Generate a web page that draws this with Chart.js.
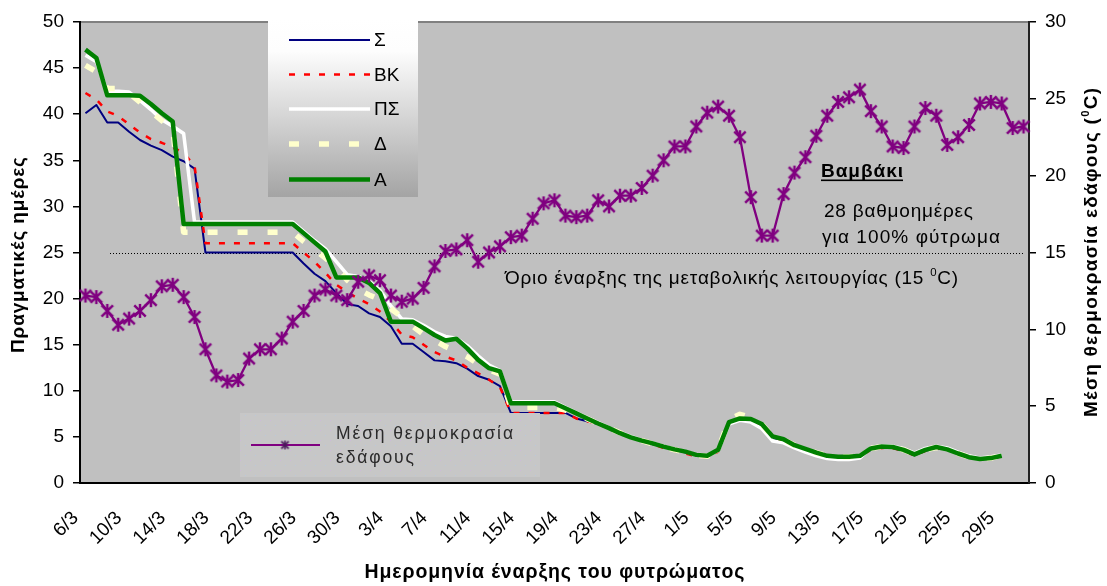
<!DOCTYPE html>
<html>
<head>
<meta charset="utf-8">
<script src="https://cdn.jsdelivr.net/npm/chart.js@4.4.1/dist/chart.umd.min.js"></script>
<style>
  html, body { margin: 0; padding: 0; background: #ffffff; }
  #wrap { width: 1107px; height: 586px; position: relative; }
</style>
</head>
<body>
<div id="wrap"><canvas id="chart" width="1107" height="586"></canvas></div>
<script>
// Sowing dates (categories), 6/3 to 31/5
const dates = [
  '6/3','7/3','8/3','9/3','10/3','11/3','12/3','13/3','14/3','15/3','16/3','17/3','18/3','19/3','20/3',
  '21/3','22/3','23/3','24/3','25/3','26/3','27/3','28/3','29/3','30/3','31/3',
  '1/4','2/4','3/4','4/4','5/4','6/4','7/4','8/4','9/4','10/4','11/4','12/4','13/4','14/4','15/4',
  '16/4','17/4','18/4','19/4','20/4','21/4','22/4','23/4','24/4','25/4','26/4','27/4','28/4','29/4','30/4',
  '1/5','2/5','3/5','4/5','5/5','6/5','7/5','8/5','9/5','10/5','11/5','12/5','13/5','14/5','15/5',
  '16/5','17/5','18/5','19/5','20/5','21/5','22/5','23/5','24/5','25/5','26/5','27/5','28/5','29/5','30/5','31/5'
];

// Days to emergence per sowing date (left axis)
const daysS = [
  40.1, 41.0, 39.1, 39.1, 38.1, 37.2, 36.6, 36.1, 35.4, 34.9,
  34.1, 25.0, 25.0, 25.0, 25.0, 25.0, 25.0, 25.0, 25.0, 25.0,
  23.8, 22.7, 21.9, 20.6, 19.4, 19.2, 18.4, 18.0, 17.0, 15.1,
  15.1, 14.2, 13.3, 13.2, 13.0, 12.4, 11.6, 11.2, 10.5, 7.6,
  7.6, 7.6, 7.6, 7.6, 7.6, 7.0, 6.7, 6.4, 5.9, 5.5,
  5.0, 4.6, 4.2, 3.9, 3.6, 3.3, 3.0, 2.9, 3.5, 6.5,
  6.9, 6.8, 6.2, 4.9, 4.6, 4.0, 3.6, 3.2, 2.9, 2.8,
  2.8, 2.9, 3.6, 3.8, 3.8, 3.5, 3.0, 3.5, 3.8, 3.6,
  3.2, 2.8, 2.6, 2.7, 2.9
];
const daysBK = [
  42.3, 41.6, 40.3, 39.8, 38.9, 38.0, 37.3, 36.9, 36.4, 35.8,
  34.4, 26.0, 26.0, 26.0, 26.0, 26.0, 26.0, 26.0, 26.0, 26.0,
  25.0, 24.0, 22.8, 21.5, 20.7, 20.0, 19.4, 18.6, 17.5, 16.1,
  15.8, 15.0, 14.2, 13.7, 13.3, 12.5, 11.9, 11.2, 10.4, 7.6,
  7.6, 7.6, 7.6, 7.6, 7.6, 7.0, 6.7, 6.4, 5.9, 5.5,
  5.0, 4.5, 4.2, 3.8, 3.5, 3.2, 2.9, 2.8, 3.4, 6.5,
  6.9, 6.8, 6.2, 4.9, 4.6, 4.0, 3.6, 3.2, 2.9, 2.8,
  2.8, 2.9, 3.6, 3.8, 3.8, 3.5, 3.0, 3.5, 3.8, 3.6,
  3.2, 2.8, 2.6, 2.7, 2.9
];
const daysPS = [
  46.4, 45.7, 42.5, 42.5, 42.4, 41.5, 40.5, 39.4, 38.7, 37.9,
  28.3, 28.3, 28.3, 28.3, 28.3, 28.3, 28.3, 28.3, 28.3, 28.3,
  27.3, 26.3, 25.4, 24.0, 22.6, 22.4, 21.9, 20.9, 19.2, 17.8,
  17.7, 17.1, 16.4, 15.9, 15.7, 14.9, 13.8, 12.8, 12.2, 8.8,
  8.8, 8.8, 8.8, 8.8, 8.2, 7.65, 7.1, 6.55, 6.0, 5.5,
  5.05, 4.65, 4.35, 4.0, 3.65, 3.4, 3.05, 2.95, 3.5, 6.4,
  6.8, 6.6, 5.9, 4.55, 4.35, 3.8, 3.35, 2.95, 2.65, 2.55,
  2.55, 2.7, 3.85, 4.05, 4.0, 3.75, 3.25, 3.75, 4.0, 3.8,
  3.35, 2.95, 2.7, 2.85, 3.05
];
const daysD = [
  45.3, 44.6, 42.8, 42.8, 42.3, 41.3, 40.3, 39.3, 38.5, 27.2,
  27.2, 27.2, 27.2, 27.2, 27.2, 27.2, 27.2, 27.2, 27.2, 27.2,
  26.2, 25.3, 24.4, 23.4, 22.0, 21.0, 20.4, 19.9, 18.9, 18.0,
  17.0, 16.1, 15.5, 14.8, 14.3, 13.7, 12.9, 12.3, 11.8, 8.2,
  8.2, 8.2, 8.2, 8.2, 7.9, 7.5, 6.95, 6.45, 5.95, 5.45,
  5.0, 4.6, 4.25, 3.9, 3.6, 3.35, 3.0, 2.9, 3.6, 6.9,
  7.45, 7.1, 6.4, 5.0, 4.7, 4.1, 3.7, 3.3, 2.95, 2.85,
  2.85, 2.95, 3.75, 3.95, 3.9, 3.6, 3.1, 3.6, 3.85, 3.65,
  3.2, 2.8, 2.6, 2.7, 2.95
];
const daysA = [
  47.0, 46.1, 42.05, 42.05, 42.05, 42.0, 41.1, 40.1, 39.2, 28.1,
  28.1, 28.1, 28.1, 28.1, 28.1, 28.1, 28.1, 28.1, 28.1, 28.1,
  27.1, 26.1, 25.1, 22.3, 22.3, 22.3, 21.7, 20.6, 17.5, 17.5,
  17.5, 16.8, 16.05, 15.45, 15.65, 14.6, 13.35, 12.45, 12.1, 8.65,
  8.65, 8.65, 8.65, 8.65, 8.1, 7.55, 7.0, 6.45, 5.95, 5.4,
  4.95, 4.6, 4.3, 3.95, 3.65, 3.4, 3.05, 2.95, 3.6, 6.6,
  7.0, 6.95, 6.4, 5.05, 4.75, 4.1, 3.7, 3.3, 2.95, 2.85,
  2.85, 2.95, 3.75, 3.95, 3.9, 3.6, 3.1, 3.6, 3.9, 3.65,
  3.2, 2.8, 2.6, 2.7, 2.95
];

// Mean soil temperature, °C (right axis)
const soilTemp = [
  12.2, 12.1, 11.2, 10.3, 10.7, 11.2, 11.9, 12.8, 12.9, 12.1,
  10.8, 8.7, 7.0, 6.6, 6.7, 8.1, 8.7, 8.7, 9.4, 10.5,
  11.2, 12.2, 12.6, 12.2, 11.9, 13.1, 13.5, 13.2, 12.2, 11.8,
  12.0, 12.7, 14.1, 15.1, 15.2, 15.8, 14.4, 15.0, 15.4, 16.0,
  16.1, 17.2, 18.2, 18.4, 17.4, 17.3, 17.4, 18.4, 18.0, 18.7,
  18.7, 19.2, 20.0, 21.0, 21.9, 21.9, 23.2, 24.1, 24.5, 23.9,
  22.5, 18.6, 16.1, 16.1, 18.8, 20.2, 21.2, 22.6, 23.9, 24.8,
  25.1, 25.6, 24.2, 23.2, 21.9, 21.8, 23.2, 24.4, 23.9, 22.0,
  22.5, 23.3, 24.7, 24.8, 24.7, 23.1, 23.2
];

const leftTicks = [0, 5, 10, 15, 20, 25, 30, 35, 40, 45, 50];
const rightTicks = [0, 5, 10, 15, 20, 25, 30];
const thresholdTemp = 15;

const FONT = '"Liberation Sans", Arial, sans-serif';
const PURPLE = '#800080';

function asteriskMarker(size, lw, color) {
  const c = document.createElement('canvas');
  c.width = size; c.height = size;
  const g = c.getContext('2d');
  const m = size / 2, r = size / 2 - 1, d = r * 0.82;
  g.strokeStyle = color;
  g.lineWidth = lw;
  g.beginPath();
  g.moveTo(m - d, m - d); g.lineTo(m + d, m + d);
  g.moveTo(m + d, m - d); g.lineTo(m - d, m + d);
  g.moveTo(m, m - r); g.lineTo(m, m + r);
  g.stroke();
  return c;
}
const starMark = asteriskMarker(16, 2.5, PURPLE);
const starSmall = asteriskMarker(11, 1.6, '#4a1a5a');

// Draws a run of text (with optional superscript parts) spread over a given width
function spacedText(ctx, parts, x, y, size, weight, width, align) {
  const chars = [];
  parts.forEach(p => { for (const ch of p.t) chars.push({ ch, sup: !!p.sup }); });
  let natural = 0;
  chars.forEach(c => {
    ctx.font = `${weight} ${c.sup ? size * 0.6 : size}px ${FONT}`;
    c.w = ctx.measureText(c.ch).width;
    natural += c.w;
  });
  const extra = chars.length > 1 ? (width - natural) / (chars.length - 1) : 0;
  let cx = align === 'center' ? x - width / 2 : x;
  ctx.textAlign = 'left';
  ctx.textBaseline = 'alphabetic';
  chars.forEach(c => {
    ctx.font = `${weight} ${c.sup ? size * 0.6 : size}px ${FONT}`;
    ctx.fillText(c.ch, cx, c.sup ? y - size * 0.42 : y);
    cx += c.w + extra;
  });
}

const plotArea = {
  id: 'plotArea',
  beforeDraw(chart) {
    const { ctx, chartArea: a } = chart;
    ctx.save();
    ctx.fillStyle = '#c0c0c0';
    ctx.fillRect(a.left, a.top, a.right - a.left, a.bottom - a.top);
    ctx.strokeStyle = '#808080';
    ctx.lineWidth = 2;
    ctx.beginPath();
    ctx.moveTo(a.left, a.top);
    ctx.lineTo(a.right, a.top);
    ctx.stroke();
    // 15 °C threshold
    const yT = Math.round(chart.scales.yT.getPixelForValue(thresholdTemp)) + 0.5;
    ctx.strokeStyle = '#000';
    ctx.lineWidth = 1;
    ctx.setLineDash([1, 2]);
    ctx.beginPath();
    ctx.moveTo(a.left + 30, yT);
    ctx.lineTo(a.right - 6, yT);
    ctx.stroke();
    ctx.restore();
  }
};

const decorations = {
  id: 'decorations',
  afterDraw(chart) {
    const { ctx, chartArea: a } = chart;
    const ds = chart.data.datasets;
    ctx.save();
    ctx.fillStyle = '#000';

    // Axis titles
    spacedText(ctx, [{ t: 'Ημερομηνία έναρξης του φυτρώματος' }], (a.left + a.right) / 2, 578, 19.5, 'bold', 380, 'center');

    ctx.save();
    ctx.translate(24, 255);
    ctx.rotate(-Math.PI / 2);
    spacedText(ctx, [{ t: 'Πραγματικές ημέρες' }], 0, 0, 19, 'bold', 196, 'center');
    ctx.restore();

    ctx.save();
    ctx.translate(1097, 252.5);
    ctx.rotate(-Math.PI / 2);
    spacedText(ctx, [{ t: 'Μέση θερμοκρασία εδάφους (' }, { t: '0', sup: true }, { t: 'C)' }], 0, 0, 19, 'bold', 329, 'center');
    ctx.restore();

    // Threshold caption
    spacedText(ctx, [{ t: 'Όριο έναρξης της μεταβολικής λειτουργίας (15 ' }, { t: '0', sup: true }, { t: 'C)' }], 505, 284, 19, 'normal', 453, 'left');

    // Crop note
    spacedText(ctx, [{ t: 'Βαμβάκι' }], 821, 177, 19, 'bold', 82, 'left');
    ctx.fillRect(821, 179.5, 82, 1.6);
    spacedText(ctx, [{ t: '28 βαθμοημέρες' }], 824, 217, 19, 'normal', 149, 'left');
    spacedText(ctx, [{ t: 'για 100% φύτρωμα' }], 822, 243, 19, 'normal', 178, 'left');

    // Series legend box
    const lx = 268, ly = 19, lw = 150, lh = 178;
    const grad = ctx.createLinearGradient(0, ly, 0, ly + lh);
    grad.addColorStop(0, '#ffffff');
    grad.addColorStop(0.18, '#fdfdfd');
    grad.addColorStop(1, '#a4a4a4');
    ctx.fillStyle = grad;
    ctx.fillRect(lx, ly, lw, lh);
    const rows = [40, 74.5, 109, 144, 179.5];
    const order = ['Σ', 'ΒΚ', 'ΠΣ', 'Δ', 'Α'];
    order.forEach((name, k) => {
      const d = ds.find(s => s.label === name);
      const y = rows[k];
      ctx.save();
      ctx.strokeStyle = d.borderColor;
      ctx.lineWidth = d.borderWidth;
      ctx.setLineDash(d.borderDash || []);
      ctx.lineCap = 'butt';
      ctx.beginPath();
      ctx.moveTo(289, y);
      ctx.lineTo(370, y);
      ctx.stroke();
      ctx.restore();
      ctx.fillStyle = '#000';
      ctx.font = `19px ${FONT}`;
      ctx.textAlign = 'left';
      ctx.textBaseline = 'middle';
      ctx.fillText(name, 374, y + 1);
    });

    // Temperature legend box
    const tx = 240, ty = 413, tw = 300, th = 64;
    ctx.fillStyle = '#c7c7c7';
    ctx.fillRect(tx, ty, tw, th);
    const pc = document.createElement('canvas');
    pc.width = 10; pc.height = 10;
    const pg = pc.getContext('2d');
    pg.fillStyle = '#cdb8dc'; pg.fillRect(0, 0, 1, 1);
    pg.fillStyle = '#b9c8dc'; pg.fillRect(5, 5, 1, 1);
    ctx.fillStyle = ctx.createPattern(pc, 'repeat');
    ctx.fillRect(tx, ty, tw, th);
    ctx.strokeStyle = PURPLE;
    ctx.lineWidth = 2;
    ctx.setLineDash([]);
    ctx.beginPath();
    ctx.moveTo(251, 445);
    ctx.lineTo(320, 445);
    ctx.stroke();
    ctx.drawImage(starSmall, 285 - 5.5, 445 - 5.5);
    ctx.fillStyle = '#2a2a2a';
    spacedText(ctx, [{ t: 'Μέση θερμοκρασία' }], 336, 439, 17.5, 'normal', 177, 'left');
    spacedText(ctx, [{ t: 'εδάφους' }], 336, 463, 17.5, 'normal', 78, 'left');

    ctx.restore();
  }
};

const tickFont = { family: FONT, size: 19 };

new Chart(document.getElementById('chart'), {
  type: 'line',
  data: {
    labels: dates,
    datasets: [
      {
        label: 'Μέση θερμοκρασία εδάφους',
        data: soilTemp,
        yAxisID: 'yT',
        borderColor: PURPLE,
        borderWidth: 2.3,
        pointStyle: starMark,
        pointRadius: 7,
        pointHoverRadius: 7,
        order: 0
      },
      { label: 'Α', data: daysA, yAxisID: 'yD', borderColor: '#008000', borderWidth: 4.5, pointRadius: 0, order: 1 },
      { label: 'Δ', data: daysD, yAxisID: 'yD', borderColor: '#ffffcc', borderWidth: 5.5, borderDash: [10, 20], pointRadius: 0, order: 2 },
      { label: 'ΠΣ', data: daysPS, yAxisID: 'yD', borderColor: '#ffffff', borderWidth: 3.5, pointRadius: 0, order: 3 },
      { label: 'ΒΚ', data: daysBK, yAxisID: 'yD', borderColor: '#ff0000', borderWidth: 2.5, borderDash: [6, 9], pointRadius: 0, order: 4 },
      { label: 'Σ', data: daysS, yAxisID: 'yD', borderColor: '#000080', borderWidth: 2, pointRadius: 0, order: 5 }
    ]
  },
  options: {
    responsive: false,
    animation: false,
    devicePixelRatio: 1,
    layout: { padding: { top: 22, left: 0, right: 0, bottom: 0 } },
    elements: { line: { tension: 0, borderCapStyle: 'butt', borderJoinStyle: 'round' } },
    plugins: { legend: { display: false }, tooltip: { enabled: false }, title: { display: false } },
    scales: {
      x: {
        type: 'category',
        offset: true,
        grid: { display: false },
        border: { display: true, color: '#000', width: 2 },
        ticks: {
          autoSkip: false,
          minRotation: 45,
          maxRotation: 45,
          padding: 16,
          labelOffset: -10,
          color: '#000',
          font: { family: FONT, size: 19 },
          callback: function (v, i) { return i % 4 === 0 ? this.getLabelForValue(v) : ''; }
        },
        afterFit(s) { s.height = 103; }
      },
      yD: {
        position: 'left',
        min: 0, max: 50,
        afterBuildTicks(s) { s.ticks = leftTicks.map(v => ({ value: v })); },
        grid: { drawOnChartArea: false, drawTicks: true, tickLength: 7, color: '#000', lineWidth: 1.5 },
        border: { display: true, color: '#000', width: 2 },
        ticks: { padding: 9, color: '#000', font: tickFont },
        afterFit(s) { s.width = 80; }
      },
      yT: {
        position: 'right',
        min: 0, max: 30,
        afterBuildTicks(s) { s.ticks = rightTicks.map(v => ({ value: v })); },
        grid: { drawOnChartArea: false, drawTicks: true, tickLength: 7, color: '#000', lineWidth: 1.5 },
        border: { display: true, color: '#222', width: 2 },
        ticks: { padding: 9, color: '#000', font: tickFont },
        afterFit(s) { s.width = 78; }
      }
    }
  },
  plugins: [plotArea, decorations]
});
</script>
</body>
</html>
